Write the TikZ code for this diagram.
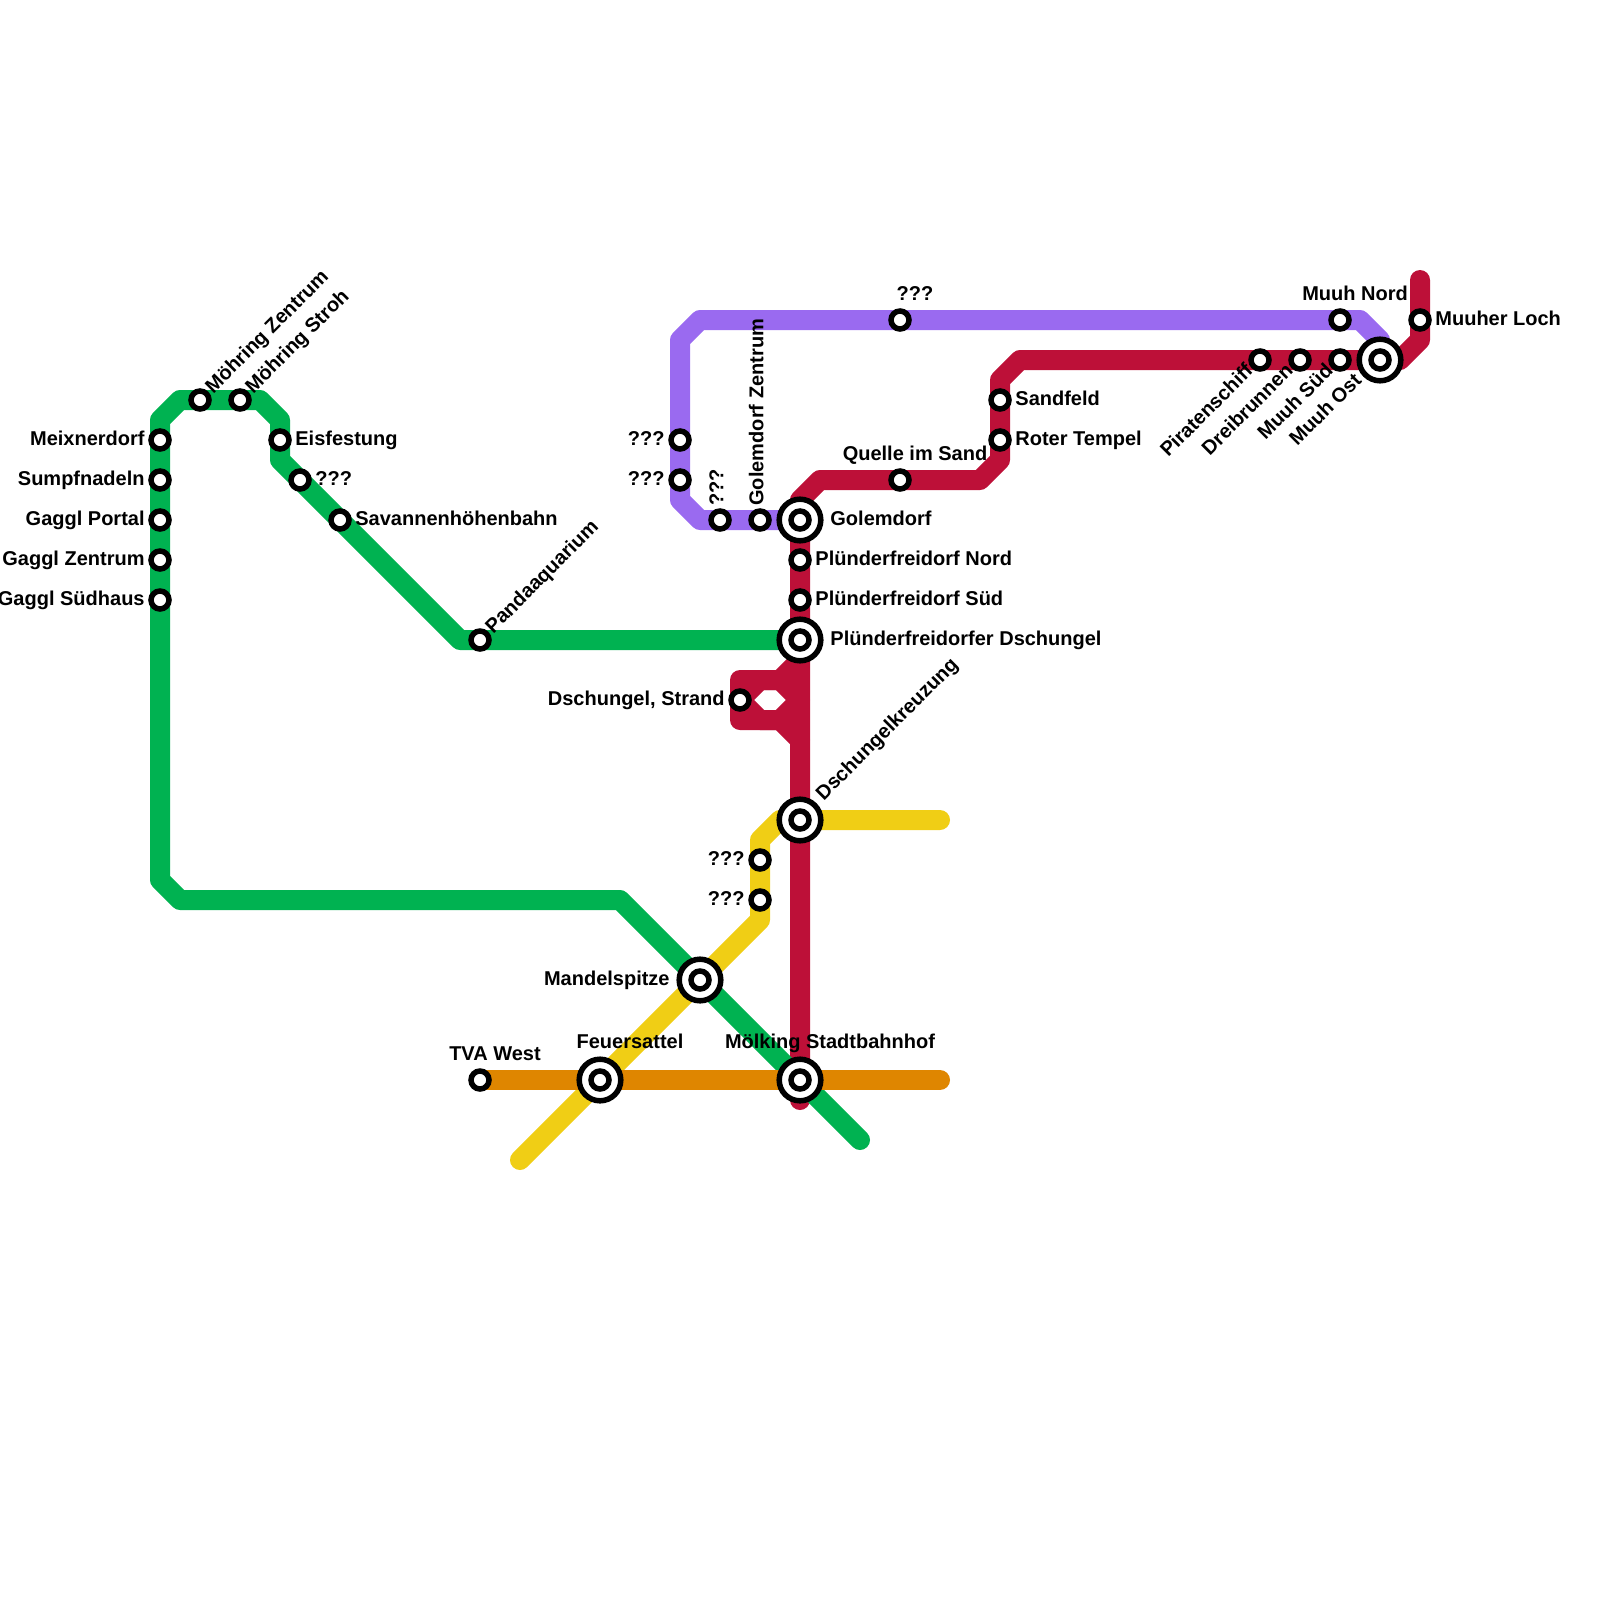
\documentclass[tikz,border=0pt]{standalone}
\usepackage{fontspec}
\setmainfont{Liberation Sans}
\usetikzlibrary{backgrounds}
\definecolor{greenline}{HTML}{00B251}
\definecolor{redline}{HTML}{BD1038}
\definecolor{purpleline}{HTML}{9A6AF0}
\definecolor{yellowline}{HTML}{F0CE15}
\definecolor{orangeline}{HTML}{DF8600}
\tikzset{
	metro/.style={line width=10pt,line cap=round,line join=round},
	station/.style={circle,draw=black,fill=white,line width=2.75pt,minimum size=9pt,inner sep=0pt},
	hub/.style={circle,draw=black,fill=white,line width=2.75pt,minimum size=20.8pt,inner sep=0pt},
	txt/.style={font=\bfseries\fontsize{10}{12}\selectfont,inner sep=0pt,text=black},
	lblright/.style={txt,anchor=base west,xshift=7.5pt,yshift=-2.7pt},
	lblleft/.style={txt,anchor=base east,xshift=-7.5pt,yshift=-2.7pt},
	hubright/.style={txt,anchor=base west,xshift=15pt,yshift=-2.7pt},
	hubleft/.style={txt,anchor=base east,xshift=-15pt,yshift=-2.7pt},
	lbltop/.style={txt,anchor=base,xshift=7.5pt,yshift=10pt},
	hubtop/.style={txt,anchor=base,xshift=15pt,yshift=16pt},
	lblup/.style={txt,anchor=base west,xshift=1.7pt,yshift=7pt,rotate=90},
	lbldiag/.style={txt,anchor=base west,xshift=6.5pt,yshift=2.7pt,rotate=45},
	hubdiag/.style={txt,anchor=base west,xshift=11.8pt,yshift=9.3pt,rotate=45},
	lbldown/.style={txt,anchor=base east,xshift=-2.9pt,yshift=-6pt,rotate=45},
	hubdown/.style={txt,anchor=base east,xshift=-8.6pt,yshift=-10.6pt,rotate=45},
}
\begin{document}
\begin{tikzpicture}[x=10pt,y=-10pt]
	\useasboundingbox (0,0) rectangle (80,80);
	\path
	(8,22) node[station](meixnerdorf){}
	(8,24) node[station](sumpfnadeln){}
	(8,26) node[station](gagglportal){}
	(8,28) node[station](gagglzentrum){}
	(8,30) node[station](gagglsuedhaus){}
	(10,20) node[station](moehringz){}
	(12,20) node[station](moehrings){}
	(14,22) node[station](eisfestung){}
	(15,24) node[station](greenx){}
	(17,26) node[station](savannen){}
	(24,32) node[station](pandaaquarium){}
	(34,22) node[station](purplea){}
	(34,24) node[station](purpleb){}
	(36,26) node[station](purplec){}
	(38,26) node[station](golemz){}
	(45,16) node[station](purpled){}
	(67,16) node[station](muuhnord){}
	(71,16) node[station](muuherloch){}
	(63,18) node[station](piratenschiff){}
	(65,18) node[station](dreibrunnen){}
	(67,18) node[station](muuhsued){}
	(50,20) node[station](sandfeld){}
	(50,22) node[station](rotertempel){}
	(45,24) node[station](quelle){}
	(40,28) node[station](pfnord){}
	(40,30) node[station](pfsued){}
	(37,35) node[station](strand){}
	(38,43) node[station](yellowa){}
	(38,45) node[station](yellowb){}
	(24,54) node[station](tvawest){}
	(69,18) node[hub](muuhostring){} node[station](muuhost){}
	(40,26) node[hub](golemdorfring){} node[station](golemdorf){}
	(40,32) node[hub](dschungelring){} node[station](dschungel){}
	(40,41) node[hub](kreuzungring){} node[station](kreuzung){}
	(35,49) node[hub](mandelring){} node[station](mandelspitze){}
	(30,54) node[hub](feuerring){} node[station](feuersattel){}
	(40,54) node[hub](moelkingring){} node[station](moelking){}
	;
	\path
	(23,32) coordinate(ga) (14,23) coordinate(gb) (14,21) coordinate(gc) (13,20) coordinate(gd)
	(9,20) coordinate(ge) (8,21) coordinate(gf) (8,44) coordinate(gg) (9,45) coordinate(gh)
	(31,45) coordinate(gi) (43,57) coordinate(gj)
	(71,14) coordinate(ra) (71,17) coordinate(rb) (70,18) coordinate(rc) (51,18) coordinate(rd)
	(50,19) coordinate(re) (50,23) coordinate(rf) (49,24) coordinate(rg) (41,24) coordinate(rh)
	(40,25) coordinate(ri) (40,55) coordinate(rj)
	(40,33) coordinate(sa) (39,34) coordinate(sb) (38,34) coordinate(sc) (37,34) coordinate(sd)
	(37,36) coordinate(se) (38,36) coordinate(sf) (39,36) coordinate(sg) (40,37) coordinate(sh)
	(40,35) coordinate(si)
	(35,26) coordinate(pa) (34,25) coordinate(pb) (34,17) coordinate(pc) (35,16) coordinate(pd)
	(68,16) coordinate(pe) (69,17) coordinate(pf)
	(26,58) coordinate(ya) (38,46) coordinate(yb) (38,42) coordinate(yc) (39,41) coordinate(yd)
	(47,41) coordinate(ye) (47,54) coordinate(oa)
	;
	\begin{scope}[on background layer]
		\draw[metro,redline] (ra)--(muuherloch.center)--(rb)--(rc)--(muuhost.center)--(muuhsued.center)--(dreibrunnen.center)--(piratenschiff.center)--(rd)--(re)--(sandfeld.center)--(rotertempel.center)--(rf)--(rg)--(quelle.center)--(rh)--(ri)--(golemdorf.center)--(pfnord.center)--(pfsued.center)--(dschungel.center)--(kreuzung.center)--(moelking.center)--(rj);
		\draw[metro,redline] (sa)--(sb)--(sd)--(se)--(sg)--(sh);
		\draw[metro,redline] (strand.center)--(sc)--(sb)--(si)--(sg)--(sf)--cycle;
		\draw[metro,purpleline] (golemdorf.center)--(golemz.center)--(purplec.center)--(pa)--(pb)--(purpleb.center)--(purplea.center)--(pc)--(pd)--(purpled.center)--(muuhnord.center)--(pe)--(pf)--(muuhost.center);
		\draw[metro,greenline] (dschungel.center)--(pandaaquarium.center)--(ga)--(savannen.center)--(greenx.center)--(gb)--(eisfestung.center)--(gc)--(gd)--(moehrings.center)--(moehringz.center)--(ge)--(gf)--(meixnerdorf.center)--(sumpfnadeln.center)--(gagglportal.center)--(gagglzentrum.center)--(gagglsuedhaus.center)--(gg)--(gh)--(gi)--(mandelspitze.center)--(moelking.center)--(gj);
		\draw[metro,yellowline] (ya)--(feuersattel.center)--(mandelspitze.center)--(yb)--(yellowb.center)--(yellowa.center)--(yc)--(yd)--(kreuzung.center)--(ye);
		\draw[metro,orangeline] (tvawest.center)--(feuersattel.center)--(moelking.center)--(oa);
	\end{scope}
	\node[lblleft] (t1) at (meixnerdorf.center) {Meixnerdorf};
	\node[lblleft] (t2) at (sumpfnadeln.center) {Sumpfnadeln};
	\node[lblleft] (t3) at (gagglportal.center) {Gaggl Portal};
	\node[lblleft] (t4) at (gagglzentrum.center) {Gaggl Zentrum};
	\node[lblleft] (t5) at (gagglsuedhaus.center) {Gaggl Südhaus};
	\node[lbldiag] (t6) at (moehringz.center) {Möhring Zentrum};
	\node[lbldiag] (t7) at (moehrings.center) {Möhring Stroh};
	\node[lblright] (t8) at (eisfestung.center) {Eisfestung};
	\node[lblright] (t9) at (greenx.center) {???};
	\node[lblright] (t10) at (savannen.center) {Savannenhöhenbahn};
	\node[lbldiag] (t11) at (pandaaquarium.center) {Pandaaquarium};
	\node[lblleft] (t12) at (purplea.center) {???};
	\node[lblleft] (t13) at (purpleb.center) {???};
	\node[lblup] (t14) at (purplec.center) {???};
	\node[lblup] (t15) at (golemz.center) {Golemdorf Zentrum};
	\node[lbltop] (t16) at (purpled.center) {???};
	\node[lbltop] (t17) at (muuhnord.center) {Muuh Nord};
	\node[lblright] (t18) at (muuherloch.center) {Muuher Loch};
	\node[lbldown] (t19) at (piratenschiff.center) {Piratenschiff};
	\node[lbldown] (t20) at (dreibrunnen.center) {Dreibrunnen};
	\node[lbldown] (t21) at (muuhsued.center) {Muuh Süd};
	\node[hubdown] (t22) at (muuhost.center) {Muuh Ost};
	\node[lblright] (t23) at (sandfeld.center) {Sandfeld};
	\node[lblright] (t24) at (rotertempel.center) {Roter Tempel};
	\node[lbltop] (t25) at (quelle.center) {Quelle im Sand};
	\node[hubright] (t26) at (golemdorf.center) {Golemdorf};
	\node[lblright] (t27) at (pfnord.center) {Plünderfreidorf Nord};
	\node[lblright] (t28) at (pfsued.center) {Plünderfreidorf Süd};
	\node[hubright] (t29) at (dschungel.center) {Plünderfreidorfer Dschungel};
	\node[lblleft] (t30) at (strand.center) {Dschungel, Strand};
	\node[hubdiag] (t31) at (kreuzung.center) {Dschungelkreuzung};
	\node[lblleft] (t32) at (yellowa.center) {???};
	\node[lblleft] (t33) at (yellowb.center) {???};
	\node[hubleft] (t34) at (mandelspitze.center) {Mandelspitze};
	\node[lbltop] (t35) at (tvawest.center) {TVA West};
	\node[hubtop] (t36) at (feuersattel.center) {Feuersattel};
	\node[hubtop] (t37) at (moelking.center) {Mölking Stadtbahnhof};
\end{tikzpicture}
\end{document}
